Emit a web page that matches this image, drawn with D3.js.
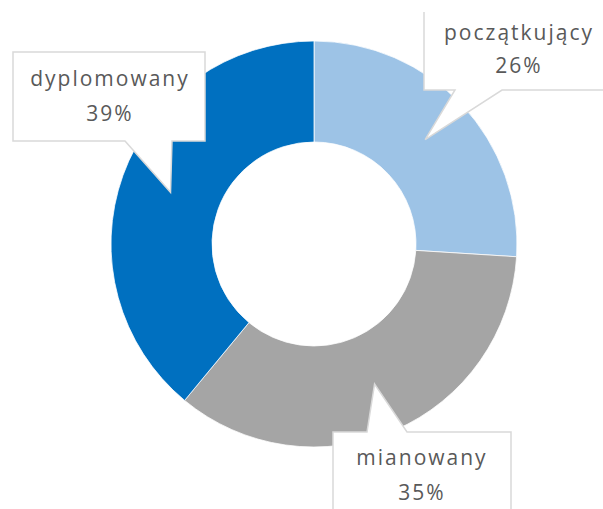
<!DOCTYPE html>
<html>
<head>
<meta charset="utf-8">
<script src="https://cdn.jsdelivr.net/npm/d3@7"></script>
<style>
  html, body { margin: 0; padding: 0; background: #fff; }
  svg { display: block; }
  text { font-family: 'Open Sans', sans-serif; fill: #595959; }
</style>
</head>
<body>
<svg id="chart"></svg>
<script>
// data
const categories = ['początkujący', 'mianowany', 'dyplomowany'];
const shares = [26, 35, 39];
const colors = ['#9DC3E6', '#A5A5A5', '#0070C0'];

// callout boxes: box rect, side of the pointer, pointer base
const callouts = [
  { box: [424, 2, 612, 90], side: 'bottom', base: [455, 502], text: [518, 40, 73] },
  { box: [333, 432, 511, 520], side: 'top', base: [367, 407], text: [421, 465, 500] },
  { box: [13, 52, 205, 141], side: 'bottom', base: [125, 172], text: [109, 86, 121] }
];

const width = 603, height = 509;
const cx = 314, cy = 244, outerR = 203, innerR = 102;

const svg = d3.select('#chart').attr('width', width).attr('height', height);

svg.append('defs').append('clipPath').attr('id', 'clip')
  .append('rect').attr('x', 0).attr('y', 12).attr('width', width).attr('height', height - 12);

const pie = d3.pie().sort(null).value(d => d.value);
const arc = d3.arc().innerRadius(innerR).outerRadius(outerR);

const data = categories.map((c, i) => ({ name: c, value: shares[i], color: colors[i] }));
const arcs = pie(data);

const g = svg.append('g').attr('transform', `translate(${cx},${cy})`);

g.selectAll('path')
  .data(arcs)
  .join('path')
  .attr('d', arc)
  .attr('fill', d => d.data.color)
  .attr('stroke', '#fff')
  .attr('stroke-width', 0.75);

// callouts, pointer tips at the slice centroids
const labels = svg.append('g').attr('clip-path', 'url(#clip)');

arcs.forEach((a, i) => {
  const c = callouts[i];
  const [x0, y0, x1, y1] = c.box;
  const [b0, b1] = c.base;
  const [tx, ty] = arc.centroid(a);
  const tipX = cx + tx, tipY = cy + ty;
  let p;
  if (c.side === 'bottom') {
    p = `M${x0},${y0}H${x1}V${y1}H${b1}L${tipX},${tipY}L${b0},${y1}H${x0}Z`;
  } else {
    p = `M${x0},${y0}H${b0}L${tipX},${tipY}L${b1},${y0}H${x1}V${y1}H${x0}Z`;
  }
  labels.append('path')
    .attr('d', p)
    .attr('fill', '#fff')
    .attr('stroke', '#D9D9D9')
    .attr('stroke-width', 1.5)
    .attr('stroke-linejoin', 'miter');

  labels.append('text')
    .attr('x', c.text[0] + 1).attr('y', c.text[1])
    .attr('text-anchor', 'middle')
    .attr('font-size', 21)
    .attr('letter-spacing', 2)
    .text(a.data.name);
  labels.append('text')
    .attr('x', c.text[0] + 1).attr('y', c.text[2])
    .attr('text-anchor', 'middle')
    .attr('font-size', 21)
    .attr('letter-spacing', 2)
    .text(a.data.value + '%');
});
</script>
</body>
</html>
